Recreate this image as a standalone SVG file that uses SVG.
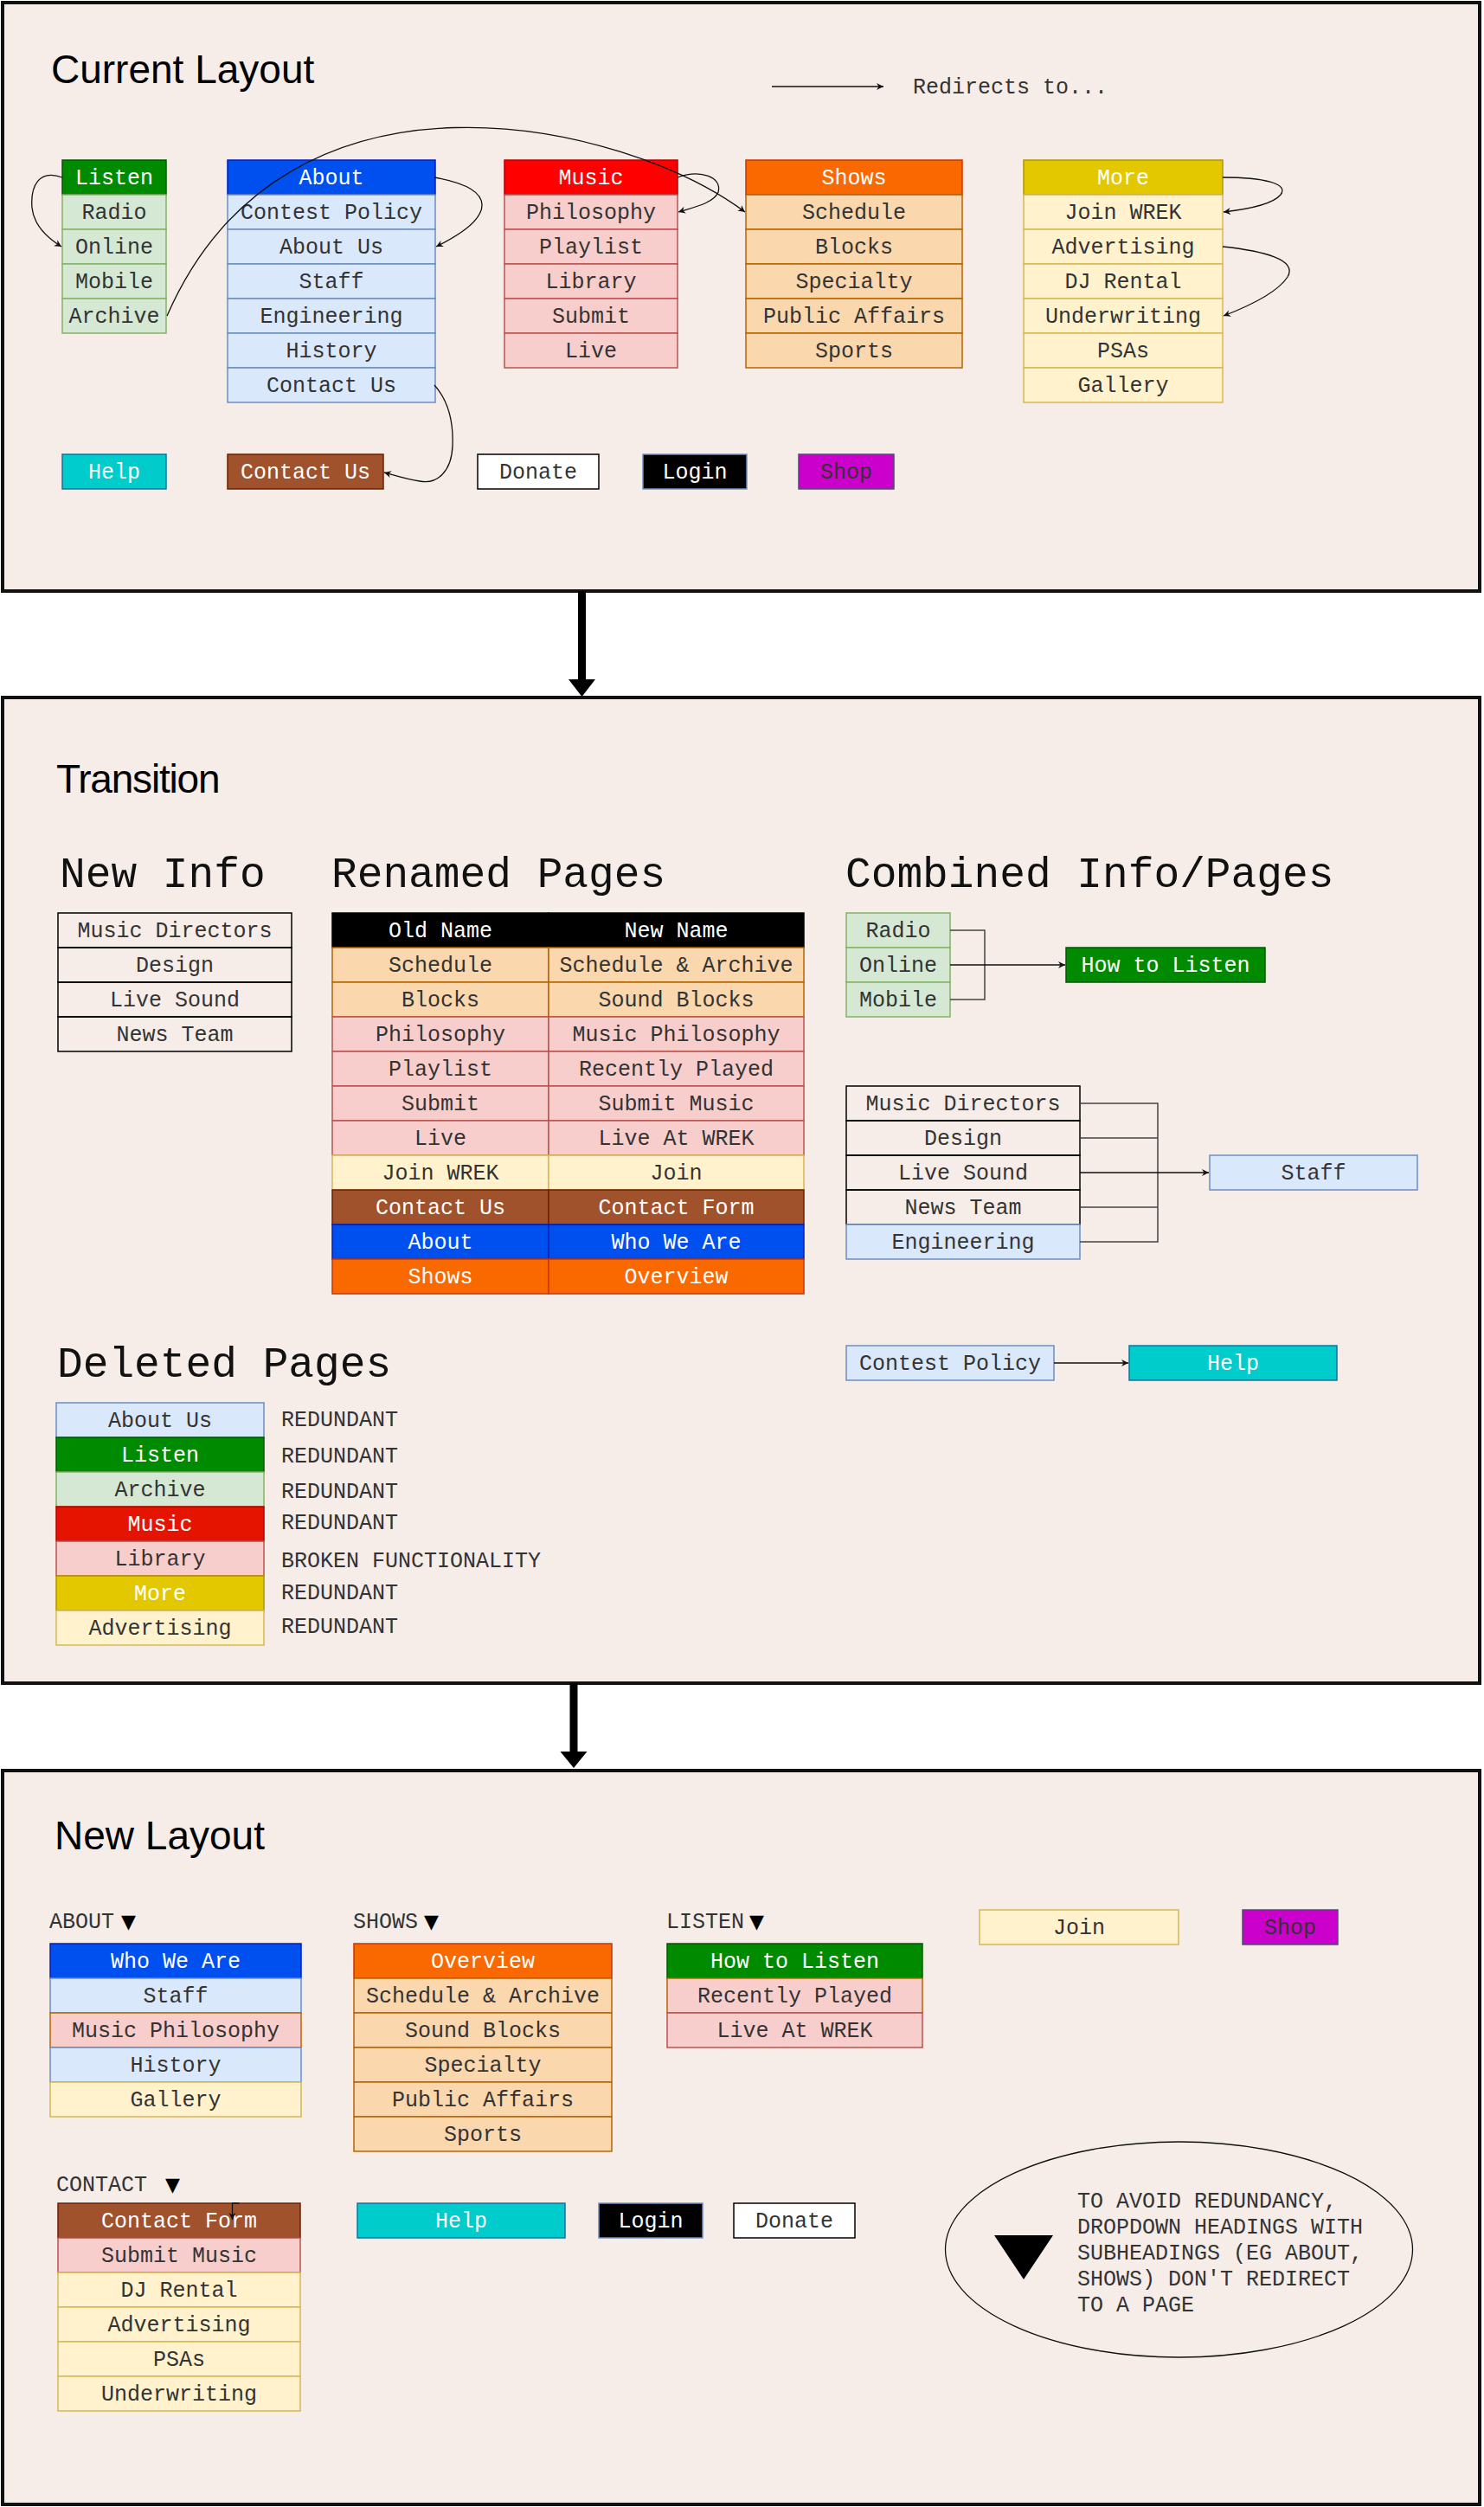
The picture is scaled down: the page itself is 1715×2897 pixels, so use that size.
<svg xmlns="http://www.w3.org/2000/svg" width="1715" height="2897" viewBox="0 0 1715 2897">
<style>
.frame{fill:#f6ede8;stroke:#111;stroke-width:4}
.title{font-family:"Liberation Sans",Arial,sans-serif;font-size:46px;fill:#000}
.h2{font-family:"Liberation Mono","Courier New",monospace;font-size:49.5px;fill:#111}
.t{font-family:"Liberation Mono","Courier New",monospace;font-size:25px;fill:#333;text-anchor:middle}
.l{font-family:"Liberation Mono","Courier New",monospace;font-size:25px;fill:#333}
.w{fill:#fff}
.tri{font-family:"DejaVu Sans",sans-serif;fill:#000}
rect{stroke-width:1.5}
.gh{fill:#008a00;stroke:#005700}
.g{fill:#d5e8d4;stroke:#82b366}
.bh{fill:#0050ef;stroke:#001dbc}
.b{fill:#dae8fc;stroke:#6c8ebf}
.rh{fill:#ff0000;stroke:#b20000}
.rh2{fill:#e51400;stroke:#b20000}
.r{fill:#f8cecc;stroke:#b85450}
.ro{fill:#f8cecc;stroke:#b46504}
.oh{fill:#fa6800;stroke:#c73500}
.o{fill:#fad7ac;stroke:#b46504}
.yh{fill:#e3c800;stroke:#b09500}
.y{fill:#fff2cc;stroke:#d6b656}
.br{fill:#a0522d;stroke:#6d1f00}
.cy{fill:#00cccc;stroke:#10739e}
.bk{fill:#000;stroke:#6c8ebf}
.wh{fill:#fff;stroke:#000}
.mg{fill:#cc00cc;stroke:#4d4d70}
.pl{fill:none;stroke:#000}
.hd{fill:#000;stroke:#000}
.conn{fill:none;stroke:#111;stroke-width:1.3;marker-end:url(#arr)}
.brk{fill:none;stroke:#444;stroke-width:1.5}
.big{stroke:#000;stroke-width:9}
</style>
<defs>
<marker id="arr" markerUnits="userSpaceOnUse" markerWidth="10" markerHeight="10" refX="8" refY="4" orient="auto">
<path d="M0,0 L8,4 L0,8 L2.5,4 z" fill="#111"/>
</marker>
</defs>

<g id="frame-current">
<rect class="frame" x="3" y="3" width="1707" height="680"/>
<text class="title" x="59" y="96">Current Layout</text>
<text class="l" x="1055" y="108">Redirects to...</text>
</g>
<g id="frame-transition">
<rect class="frame" x="3" y="806" width="1707" height="1139"/>
<text class="title" x="65" y="916" letter-spacing="-1.2">Transition</text>
<text class="h2" x="69" y="1025">New Info</text>
<text class="h2" x="383" y="1025">Renamed Pages</text>
<text class="h2" x="977" y="1025">Combined Info/Pages</text>
<text class="h2" x="66" y="1591">Deleted Pages</text>
</g>
<g id="frame-new">
<rect class="frame" x="3" y="2046" width="1707" height="848"/>
<text class="title" x="63" y="2137">New Layout</text>
</g>

<g id="c-listen">
<g id="c-listen-h"><rect class="gh" x="72" y="185" width="120" height="40"/><text class="t w" x="132" y="213">Listen</text></g>
<g id="c-radio"><rect class="g" x="72" y="225" width="120" height="40"/><text class="t" x="132" y="253">Radio</text></g>
<g id="c-online"><rect class="g" x="72" y="265" width="120" height="40"/><text class="t" x="132" y="293">Online</text></g>
<g id="c-mobile"><rect class="g" x="72" y="305" width="120" height="40"/><text class="t" x="132" y="333">Mobile</text></g>
<g id="c-archive"><rect class="g" x="72" y="345" width="120" height="40"/><text class="t" x="132" y="373">Archive</text></g>
</g>
<g id="c-about">
<g id="c-about-h"><rect class="bh" x="263" y="185" width="240" height="40"/><text class="t w" x="383" y="213">About</text></g>
<g id="c-contest"><rect class="b" x="263" y="225" width="240" height="40"/><text class="t" x="383" y="253">Contest Policy</text></g>
<g id="c-aboutus"><rect class="b" x="263" y="265" width="240" height="40"/><text class="t" x="383" y="293">About Us</text></g>
<g id="c-staff"><rect class="b" x="263" y="305" width="240" height="40"/><text class="t" x="383" y="333">Staff</text></g>
<g id="c-eng"><rect class="b" x="263" y="345" width="240" height="40"/><text class="t" x="383" y="373">Engineering</text></g>
<g id="c-history"><rect class="b" x="263" y="385" width="240" height="40"/><text class="t" x="383" y="413">History</text></g>
<g id="c-contactus-row"><rect class="b" x="263" y="425" width="240" height="40"/><text class="t" x="383" y="453">Contact Us</text></g>
</g>
<g id="c-music">
<g id="c-music-h"><rect class="rh" x="583" y="185" width="200" height="40"/><text class="t w" x="683" y="213">Music</text></g>
<g id="c-philosophy"><rect class="r" x="583" y="225" width="200" height="40"/><text class="t" x="683" y="253">Philosophy</text></g>
<g id="c-playlist"><rect class="r" x="583" y="265" width="200" height="40"/><text class="t" x="683" y="293">Playlist</text></g>
<g id="c-library"><rect class="r" x="583" y="305" width="200" height="40"/><text class="t" x="683" y="333">Library</text></g>
<g id="c-submit"><rect class="r" x="583" y="345" width="200" height="40"/><text class="t" x="683" y="373">Submit</text></g>
<g id="c-live"><rect class="r" x="583" y="385" width="200" height="40"/><text class="t" x="683" y="413">Live</text></g>
</g>
<g id="c-shows">
<g id="c-shows-h"><rect class="oh" x="862" y="185" width="250" height="40"/><text class="t w" x="987" y="213">Shows</text></g>
<g id="c-schedule"><rect class="o" x="862" y="225" width="250" height="40"/><text class="t" x="987" y="253">Schedule</text></g>
<g id="c-blocks"><rect class="o" x="862" y="265" width="250" height="40"/><text class="t" x="987" y="293">Blocks</text></g>
<g id="c-specialty"><rect class="o" x="862" y="305" width="250" height="40"/><text class="t" x="987" y="333">Specialty</text></g>
<g id="c-public"><rect class="o" x="862" y="345" width="250" height="40"/><text class="t" x="987" y="373">Public Affairs</text></g>
<g id="c-sports"><rect class="o" x="862" y="385" width="250" height="40"/><text class="t" x="987" y="413">Sports</text></g>
</g>
<g id="c-more">
<g id="c-more-h"><rect class="yh" x="1183" y="185" width="230" height="40"/><text class="t w" x="1298" y="213">More</text></g>
<g id="c-join"><rect class="y" x="1183" y="225" width="230" height="40"/><text class="t" x="1298" y="253">Join WREK</text></g>
<g id="c-adv"><rect class="y" x="1183" y="265" width="230" height="40"/><text class="t" x="1298" y="293">Advertising</text></g>
<g id="c-dj"><rect class="y" x="1183" y="305" width="230" height="40"/><text class="t" x="1298" y="333">DJ Rental</text></g>
<g id="c-under"><rect class="y" x="1183" y="345" width="230" height="40"/><text class="t" x="1298" y="373">Underwriting</text></g>
<g id="c-psas"><rect class="y" x="1183" y="385" width="230" height="40"/><text class="t" x="1298" y="413">PSAs</text></g>
<g id="c-gallery"><rect class="y" x="1183" y="425" width="230" height="40"/><text class="t" x="1298" y="453">Gallery</text></g>
</g>
<g id="c-help"><rect class="cy" x="72" y="525" width="120" height="40"/><text class="t w" x="132" y="553">Help</text></g>
<g id="c-contactus"><rect class="br" x="263" y="525" width="180" height="40"/><text class="t w" x="353" y="553">Contact Us</text></g>
<g id="c-donate"><rect class="wh" x="552" y="525" width="140" height="40"/><text class="t" x="622" y="553">Donate</text></g>
<g id="c-login"><rect class="bk" x="743" y="525" width="120" height="40"/><text class="t w" x="803" y="553">Login</text></g>
<g id="c-shop"><rect class="mg" x="923" y="525" width="110" height="40"/><text class="t" x="978" y="553">Shop</text></g>

<g id="t-newinfo">
<g id="t-ni-md"><rect class="pl" x="67" y="1055" width="270" height="40"/><text class="t" x="202" y="1083">Music Directors</text></g>
<g id="t-ni-design"><rect class="pl" x="67" y="1095" width="270" height="40"/><text class="t" x="202" y="1123">Design</text></g>
<g id="t-ni-live"><rect class="pl" x="67" y="1135" width="270" height="40"/><text class="t" x="202" y="1163">Live Sound</text></g>
<g id="t-ni-news"><rect class="pl" x="67" y="1175" width="270" height="40"/><text class="t" x="202" y="1203">News Team</text></g>
</g>
<g id="t-renamed">
<g id="t-rn-0"><rect class="hd" x="384" y="1055" width="250" height="40"/><rect class="hd" x="634" y="1055" width="295" height="40"/><text class="t w" x="509" y="1083">Old Name</text><text class="t w" x="781.5" y="1083">New Name</text></g>
<g id="t-rn-1"><rect class="o" x="384" y="1095" width="250" height="40"/><rect class="o" x="634" y="1095" width="295" height="40"/><text class="t" x="509" y="1123">Schedule</text><text class="t" x="781.5" y="1123">Schedule &amp; Archive</text></g>
<g id="t-rn-2"><rect class="o" x="384" y="1135" width="250" height="40"/><rect class="o" x="634" y="1135" width="295" height="40"/><text class="t" x="509" y="1163">Blocks</text><text class="t" x="781.5" y="1163">Sound Blocks</text></g>
<g id="t-rn-3"><rect class="r" x="384" y="1175" width="250" height="40"/><rect class="r" x="634" y="1175" width="295" height="40"/><text class="t" x="509" y="1203">Philosophy</text><text class="t" x="781.5" y="1203">Music Philosophy</text></g>
<g id="t-rn-4"><rect class="r" x="384" y="1215" width="250" height="40"/><rect class="r" x="634" y="1215" width="295" height="40"/><text class="t" x="509" y="1243">Playlist</text><text class="t" x="781.5" y="1243">Recently Played</text></g>
<g id="t-rn-5"><rect class="r" x="384" y="1255" width="250" height="40"/><rect class="r" x="634" y="1255" width="295" height="40"/><text class="t" x="509" y="1283">Submit</text><text class="t" x="781.5" y="1283">Submit Music</text></g>
<g id="t-rn-6"><rect class="r" x="384" y="1295" width="250" height="40"/><rect class="r" x="634" y="1295" width="295" height="40"/><text class="t" x="509" y="1323">Live</text><text class="t" x="781.5" y="1323">Live At WREK</text></g>
<g id="t-rn-7"><rect class="y" x="384" y="1335" width="250" height="40"/><rect class="y" x="634" y="1335" width="295" height="40"/><text class="t" x="509" y="1363">Join WREK</text><text class="t" x="781.5" y="1363">Join</text></g>
<g id="t-rn-8"><rect class="br" x="384" y="1375" width="250" height="40"/><rect class="br" x="634" y="1375" width="295" height="40"/><text class="t w" x="509" y="1403">Contact Us</text><text class="t w" x="781.5" y="1403">Contact Form</text></g>
<g id="t-rn-9"><rect class="bh" x="384" y="1415" width="250" height="40"/><rect class="bh" x="634" y="1415" width="295" height="40"/><text class="t w" x="509" y="1443">About</text><text class="t w" x="781.5" y="1443">Who We Are</text></g>
<g id="t-rn-10"><rect class="oh" x="384" y="1455" width="250" height="40"/><rect class="oh" x="634" y="1455" width="295" height="40"/><text class="t w" x="509" y="1483">Shows</text><text class="t w" x="781.5" y="1483">Overview</text></g>
</g>
<g id="t-radio"><rect class="g" x="978" y="1055" width="120" height="40"/><text class="t" x="1038" y="1083">Radio</text></g>
<g id="t-online"><rect class="g" x="978" y="1095" width="120" height="40"/><text class="t" x="1038" y="1123">Online</text></g>
<g id="t-mobile"><rect class="g" x="978" y="1135" width="120" height="40"/><text class="t" x="1038" y="1163">Mobile</text></g>
<g id="t-howto"><rect class="gh" x="1232" y="1095" width="230" height="40"/><text class="t w" x="1347" y="1123">How to Listen</text></g>
<g id="t-cb-md"><rect class="pl" x="978" y="1255" width="270" height="40"/><text class="t" x="1113" y="1283">Music Directors</text></g>
<g id="t-cb-design"><rect class="pl" x="978" y="1295" width="270" height="40"/><text class="t" x="1113" y="1323">Design</text></g>
<g id="t-cb-live"><rect class="pl" x="978" y="1335" width="270" height="40"/><text class="t" x="1113" y="1363">Live Sound</text></g>
<g id="t-cb-news"><rect class="pl" x="978" y="1375" width="270" height="40"/><text class="t" x="1113" y="1403">News Team</text></g>
<g id="t-cb-eng"><rect class="b" x="978" y="1415" width="270" height="40"/><text class="t" x="1113" y="1443">Engineering</text></g>
<g id="t-staff"><rect class="b" x="1398" y="1335" width="240" height="40"/><text class="t" x="1518" y="1363">Staff</text></g>
<g id="t-contest"><rect class="b" x="978" y="1555" width="240" height="40"/><text class="t" x="1098" y="1583">Contest Policy</text></g>
<g id="t-help"><rect class="cy" x="1305" y="1555" width="240" height="40"/><text class="t w" x="1425" y="1583">Help</text></g>
<g id="t-deleted">
<g id="t-del-aboutus"><rect class="b" x="65" y="1621" width="240" height="40"/><text class="t" x="185" y="1649">About Us</text></g>
<g id="t-del-listen"><rect class="gh" x="65" y="1661" width="240" height="40"/><text class="t w" x="185" y="1689">Listen</text></g>
<g id="t-del-archive"><rect class="g" x="65" y="1701" width="240" height="40"/><text class="t" x="185" y="1729">Archive</text></g>
<g id="t-del-music"><rect class="rh2" x="65" y="1741" width="240" height="40"/><text class="t w" x="185" y="1769">Music</text></g>
<g id="t-del-library"><rect class="r" x="65" y="1781" width="240" height="40"/><text class="t" x="185" y="1809">Library</text></g>
<g id="t-del-more"><rect class="yh" x="65" y="1821" width="240" height="40"/><text class="t w" x="185" y="1849">More</text></g>
<g id="t-del-adv"><rect class="y" x="65" y="1861" width="240" height="40"/><text class="t" x="185" y="1889">Advertising</text></g>
</g>
<g id="t-reasons">
<text class="l" x="325" y="1648">REDUNDANT</text>
<text class="l" x="325" y="1690">REDUNDANT</text>
<text class="l" x="325" y="1731">REDUNDANT</text>
<text class="l" x="325" y="1767">REDUNDANT</text>
<text class="l" x="325" y="1811">BROKEN FUNCTIONALITY</text>
<text class="l" x="325" y="1848">REDUNDANT</text>
<text class="l" x="325" y="1887">REDUNDANT</text>
</g>

<g id="n-about-label"><text class="l" x="57" y="2228">ABOUT<tspan class="tri" x="140" font-size="22">▼</tspan></text></g>
<g id="n-shows-label"><text class="l" x="408" y="2228">SHOWS<tspan class="tri" x="490" font-size="22">▼</tspan></text></g>
<g id="n-listen-label"><text class="l" x="770" y="2228">LISTEN<tspan class="tri" x="866" font-size="22">▼</tspan></text></g>
<g id="n-contact-label"><text class="l" x="65" y="2532">CONTACT<tspan class="tri" x="191" font-size="22">▼</tspan></text></g>
<g id="n-about">
<g id="n-whoweare"><rect class="bh" x="58" y="2246" width="290" height="40"/><text class="t w" x="203" y="2274">Who We Are</text></g>
<g id="n-staff"><rect class="b" x="58" y="2286" width="290" height="40"/><text class="t" x="203" y="2314">Staff</text></g>
<g id="n-musicphil"><rect class="ro" x="58" y="2326" width="290" height="40"/><text class="t" x="203" y="2354">Music Philosophy</text></g>
<g id="n-history"><rect class="b" x="58" y="2366" width="290" height="40"/><text class="t" x="203" y="2394">History</text></g>
<g id="n-gallery"><rect class="y" x="58" y="2406" width="290" height="40"/><text class="t" x="203" y="2434">Gallery</text></g>
</g>
<g id="n-shows">
<g id="n-overview"><rect class="oh" x="409" y="2246" width="298" height="40"/><text class="t w" x="558" y="2274">Overview</text></g>
<g id="n-schedarch"><rect class="o" x="409" y="2286" width="298" height="40"/><text class="t" x="558" y="2314">Schedule &amp; Archive</text></g>
<g id="n-soundblocks"><rect class="o" x="409" y="2326" width="298" height="40"/><text class="t" x="558" y="2354">Sound Blocks</text></g>
<g id="n-specialty"><rect class="o" x="409" y="2366" width="298" height="40"/><text class="t" x="558" y="2394">Specialty</text></g>
<g id="n-public"><rect class="o" x="409" y="2406" width="298" height="40"/><text class="t" x="558" y="2434">Public Affairs</text></g>
<g id="n-sports"><rect class="o" x="409" y="2446" width="298" height="40"/><text class="t" x="558" y="2474">Sports</text></g>
</g>
<g id="n-listen">
<g id="n-howto"><rect class="gh" x="771" y="2246" width="295" height="40"/><text class="t w" x="918.5" y="2274">How to Listen</text></g>
<g id="n-recent"><rect class="ro" x="771" y="2286" width="295" height="40"/><text class="t" x="918.5" y="2314">Recently Played</text></g>
<g id="n-liveat"><rect class="r" x="771" y="2326" width="295" height="40"/><text class="t" x="918.5" y="2354">Live At WREK</text></g>
</g>
<g id="n-join"><rect class="y" x="1132" y="2207" width="230" height="40"/><text class="t" x="1247" y="2235">Join</text></g>
<g id="n-shop"><rect class="mg" x="1436" y="2207" width="110" height="40"/><text class="t" x="1491" y="2235">Shop</text></g>
<g id="n-contact">
<g id="n-contactform"><rect class="br" x="67" y="2546" width="280" height="40"/><text class="t w" x="207" y="2574">Contact Form</text></g>
<g id="n-submitmusic"><rect class="r" x="67" y="2586" width="280" height="40"/><text class="t" x="207" y="2614">Submit Music</text></g>
<g id="n-djrental"><rect class="y" x="67" y="2626" width="280" height="40"/><text class="t" x="207" y="2654">DJ Rental</text></g>
<g id="n-advertising"><rect class="y" x="67" y="2666" width="280" height="40"/><text class="t" x="207" y="2694">Advertising</text></g>
<g id="n-psas"><rect class="y" x="67" y="2706" width="280" height="40"/><text class="t" x="207" y="2734">PSAs</text></g>
<g id="n-underwriting"><rect class="y" x="67" y="2746" width="280" height="40"/><text class="t" x="207" y="2774">Underwriting</text></g>
</g>
<g id="n-help"><rect class="cy" x="413" y="2546" width="240" height="40"/><text class="t w" x="533" y="2574">Help</text></g>
<g id="n-login"><rect class="bk" x="692" y="2546" width="120" height="40"/><text class="t w" x="752" y="2574">Login</text></g>
<g id="n-donate"><rect class="wh" x="848" y="2546" width="140" height="40"/><text class="t" x="918" y="2574">Donate</text></g>
<g id="n-note">
<ellipse cx="1362.5" cy="2599.5" rx="270" ry="124.5" fill="none" stroke="#111" stroke-width="1.3"/>
<polygon points="1149,2583 1217,2583 1183,2634" fill="#000"/>
<text class="l" x="1245" y="2551" fill="#222">TO AVOID REDUNDANCY,</text>
<text class="l" x="1245" y="2581" fill="#222">DROPDOWN HEADINGS WITH</text>
<text class="l" x="1245" y="2611" fill="#222">SUBHEADINGS (EG ABOUT,</text>
<text class="l" x="1245" y="2641" fill="#222">SHOWS) DON'T REDIRECT</text>
<text class="l" x="1245" y="2671" fill="#222">TO A PAGE</text>
</g>

<g id="connectors">
<line class="conn" x1="892" y1="100" x2="1021" y2="100"/>
<path class="conn" d="M72,205 C45,195 35,215 37,240 C39,260 55,275 71,285"/>
<path class="conn" d="M193,365 C330,50 720,140 861,245"/>
<path class="conn" d="M502,205 C575,218 575,250 504,285"/>
<path class="conn" d="M502,445 C520,465 524,490 523,515 C522,545 505,560 485,556 C470,554 455,549 444,546"/>
<path class="conn" d="M783,205 C810,195 835,205 830,222 C825,235 800,240 784,245"/>
<path class="conn" d="M1413,205 C1460,205 1490,212 1480,225 C1470,237 1440,242 1414,245"/>
<path class="conn" d="M1413,285 C1460,290 1500,300 1488,320 C1475,340 1440,355 1414,365"/>
<line class="big" x1="672.5" y1="683" x2="672.5" y2="788"/>
<polygon points="657,785 688,785 672.5,805" fill="#000"/>
<path class="brk" d="M1098,1075 H1138 V1155 H1098"/>
<line class="conn" x1="1098" y1="1115" x2="1231" y2="1115"/>
<path class="brk" d="M1248,1275 H1338 V1435 H1248 M1248,1315 H1338 M1248,1395 H1338"/>
<line class="conn" x1="1248" y1="1355" x2="1397" y2="1355"/>
<line class="conn" x1="1218" y1="1575" x2="1304" y2="1575"/>
<line class="big" x1="663" y1="1945" x2="663" y2="2027"/>
<polygon points="647.5,2024 678.5,2024 663,2043" fill="#000"/>
<path class="conn" d="M276.5,2546 H268.5 V2565"/>
</g>
</svg>
